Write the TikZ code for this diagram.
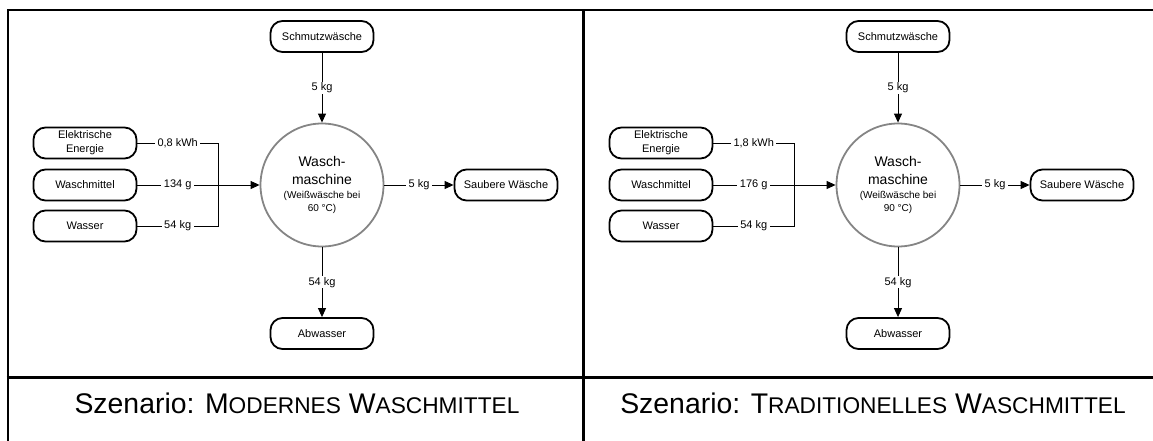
\documentclass[tikz,border=0pt]{standalone}
\usepackage{fontspec}
\setmainfont{Liberation Sans}
\usetikzlibrary{arrows.meta}

% faked small capitals for the scenario titles
\newcommand\scsmall[1]{{\fontsize{22.7}{26}\selectfont #1}}

% one scenario panel: #1 name prefix, #2 x offset, #3 energy, #4 detergent,
% #5 wash temperature, #6 title
\newcommand\washpanel[6]{%
\begin{scope}[xshift=#2pt]
  \node[machine] (#1-M) at (322,185)
    {Wasch-\\maschine\\[-4.6pt]{\fontsize{10}{12}\selectfont (Weißwäsche bei}\\[-5pt]{\fontsize{10}{12}\selectfont #5)}};
  \node[flowbox] (#1-dirty)  at (322,36.5)  {Schmutzwäsche};
  \node[flowbox] (#1-waste)  at (322,333.5) {Abwasser};
  \node[flowbox] (#1-clean)  at (506,185)   {Saubere Wäsche};
  \node[flowbox] (#1-power)  at (85,143)    {Elektrische\\Energie};
  \node[flowbox] (#1-deterg) at (85,185)    {Waschmittel};
  \node[flowbox] (#1-water)  at (85,226)    {Wasser};
  \coordinate (#1-bus) at (218,185);
  % inputs joined on a common bus
  \draw[flow] (#1-power.east) -- node[qty] {#3} (#1-power -| #1-bus)
              -- (#1-water -| #1-bus) -- node[qty] {54 kg} (#1-water.east);
  \draw[flow] (#1-deterg) -- node[qty] {#4} (#1-bus);
  \draw[flowarrow] (#1-bus) -- (#1-M);
  % laundry in and out, waste water
  \draw[flowarrow] (#1-dirty) -- node[qty] {5 kg} (#1-M);
  \draw[flowarrow] (#1-M) -- node[qty] {5 kg} (#1-clean);
  \draw[flowarrow] (#1-M) -- node[qty] {54 kg} (#1-waste);
  \node[titletext] (#1-title) at (297,413) {#6};
\end{scope}}

\begin{document}
\begin{tikzpicture}[x=1pt,y=-1pt,
  flowbox/.style={draw=black, line width=1.8pt, rounded corners=12pt,
    minimum width=103pt, minimum height=31pt, inner sep=0pt, align=center,
    font=\fontsize{11}{14}\selectfont},
  machine/.style={circle, draw=black!48, line width=1.8pt, minimum size=123pt,
    inner sep=0pt, align=center, font=\fontsize{14}{18}\selectfont},
  flow/.style={line width=0.9pt},
  flowarrow/.style={flow, -{Triangle[length=9pt,width=8pt]}},
  qty/.style={fill=white, inner xsep=2.5pt, inner ysep=1pt,
    font=\fontsize{11}{13}\selectfont},
  frame/.style={line width=2.3pt},
  titletext/.style={font=\fontsize{28.4}{32}\selectfont, anchor=base}
]
\useasboundingbox (0,0) rectangle (1153,441);

% table frame
\draw[frame] (7.8,441) -- (7.8,10) -- (1153,10);
\draw[frame] (583.5,10) -- (583.5,441);
\draw[frame] (6.7,377.5) -- (1153,377.5);

\washpanel{L}{0}{0,8 kWh}{134 g}{60 °C}{Szenario: M\scsmall{ODERNES} W\scsmall{ASCHMITTEL}}
\washpanel{R}{576}{1,8 kWh}{176 g}{90 °C}{Szenario: T\scsmall{RADITIONELLES} W\scsmall{ASCHMITTEL}}
\end{tikzpicture}
\end{document}
